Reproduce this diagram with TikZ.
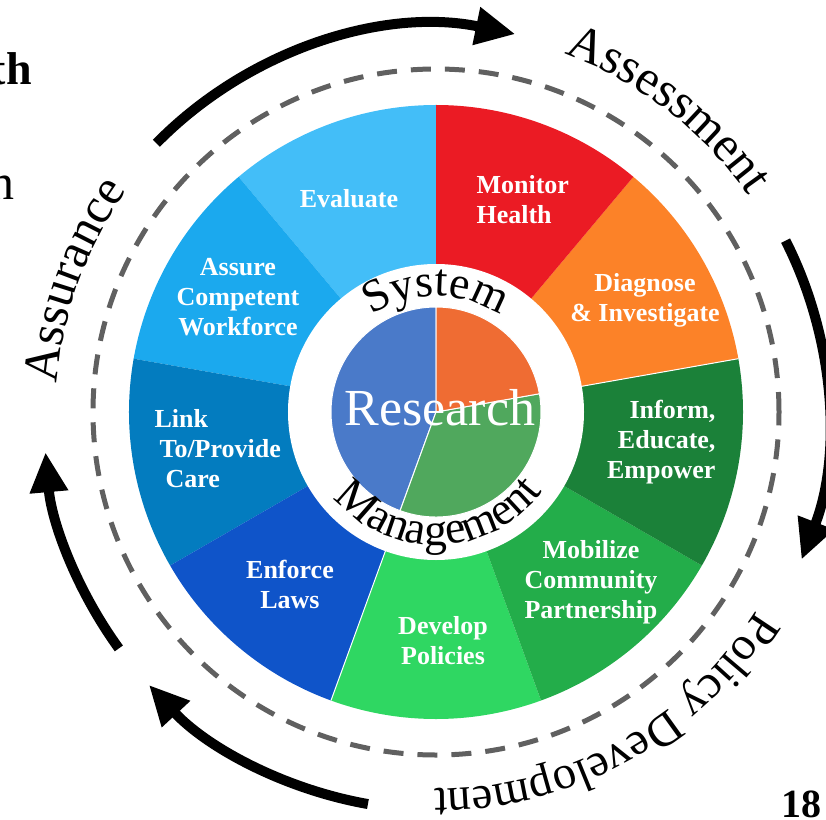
\documentclass[tikz,border=0pt]{standalone}
\usepackage{fontspec}
\setmainfont{Liberation Serif}
\usetikzlibrary{arrows.meta,decorations.text}
\definecolor{evalblue}{HTML}{43BEF8}
\definecolor{assureblue}{HTML}{1BA9EE}
\definecolor{linkblue}{HTML}{037CBF}
\definecolor{enforceblue}{HTML}{0F54C9}
\definecolor{developgreen}{HTML}{2FD762}
\definecolor{mobilgreen}{HTML}{23AD4A}
\definecolor{informgreen}{HTML}{1B8139}
\definecolor{diagorange}{HTML}{FC8228}
\definecolor{monitorred}{HTML}{EB1B24}
\definecolor{pieblue}{HTML}{4A7AC9}
\definecolor{pieorange}{HTML}{EF6C33}
\definecolor{piegreen}{HTML}{50A85D}
\definecolor{dashgray}{HTML}{606060}
\newcommand\segfont{\bfseries\fontsize{26}{30}\selectfont}
\newcommand\ringfont{\fontsize{50}{60}\selectfont}
\newcommand\policyfont{\fontsize{47}{56}\selectfont}
\newcommand\hubfont{\fontsize{46}{50}\selectfont}

\begin{document}
\begin{tikzpicture}[x=1pt, y=1pt,
	seglabel/.style={text=white, font=\segfont, align=center},
	cyclearrow/.style={line width=10pt, -{Triangle[length=40pt, width=36pt]}}]
	\useasboundingbox (-436,-407) rectangle (390,412);
	\fill[evalblue] (0,0) -- (90:307) arc[start angle=90, end angle=130, radius=307] -- cycle;
	\fill[assureblue] (0,0) -- (130:307) arc[start angle=130, end angle=170, radius=307] -- cycle;
	\fill[linkblue] (0,0) -- (170:307) arc[start angle=170, end angle=210, radius=307] -- cycle;
	\fill[enforceblue] (0,0) -- (210:307) arc[start angle=210, end angle=250, radius=307] -- cycle;
	\fill[developgreen] (0,0) -- (250:307) arc[start angle=250, end angle=290, radius=307] -- cycle;
	\fill[mobilgreen] (0,0) -- (290:307) arc[start angle=290, end angle=330, radius=307] -- cycle;
	\fill[informgreen] (0,0) -- (330:307) arc[start angle=330, end angle=370, radius=307] -- cycle;
	\fill[diagorange] (0,0) -- (10:307) arc[start angle=10, end angle=50, radius=307] -- cycle;
	\fill[monitorred] (0,0) -- (50:307) arc[start angle=50, end angle=90, radius=307] -- cycle;
	\draw[white, line width=1pt] (250:148) -- (250:307) (10:148) -- (10:307);
	\fill[white] (0,0) circle (148);
	\filldraw[fill=pieblue, draw=white, line width=1pt] (0,0) -- (90:105) arc[start angle=90, end angle=250, radius=105] -- cycle;
	\filldraw[fill=piegreen, draw=white, line width=1pt] (0,0) -- (250:105) arc[start angle=250, end angle=370, radius=105] -- cycle;
	\filldraw[fill=pieorange, draw=white, line width=1pt] (0,0) -- (10:105) arc[start angle=10, end angle=90, radius=105] -- cycle;
	\node[text=white, font=\fontsize{52}{56}\selectfont, anchor=base] (research) at (4,-13) {Research};
	\path[decorate, decoration={text along path, text align=center, text={|\hubfont|System}}] (150:116) arc[start angle=150, end angle=30, radius=116];
	\path[decorate, decoration={text along path, text align=center, text={|\hubfont|Management}}] (200:133) arc[start angle=200, end angle=343, radius=133];
	\node[seglabel] (evaluate) at (-87,213) {Evaluate};
	\node[seglabel, align=left, anchor=west] (monitor) at (37,212) {Monitor\\Health};
	\node[seglabel] (diagnose) at (209,112) {Diagnose\\\& Investigate};
	\node[seglabel, align=right, anchor=east] (inform) at (283,-30) {Inform,\\Educate,\\Empower};
	\node[seglabel] (mobilize) at (155,-170) {Mobilize\\Community\\Partnership};
	\node[seglabel] (develop) at (7,-229) {Develop\\Policies};
	\node[seglabel] (enforce) at (-146,-172) {Enforce\\Laws};
	\node[seglabel, align=left, anchor=west] (link) at (-285,-37) {Link\\\hspace*{5pt}To/Provide\\\hspace*{11pt}Care};
	\node[seglabel] (assure) at (-198,115) {Assure\\Competent\\Workforce};
	\draw[dashgray, line width=5pt, dash pattern=on 20pt off 14pt] (0,0) circle (343);
	\path[decorate, decoration={text along path, text align=center, text={|\ringfont|Assessment}}] (85:380) arc[start angle=85, end angle=20, radius=380];
	\path[decorate, decoration={text along path, text align=center, text={|\policyfont|Policy Development}}] (-5:377) arc[start angle=-5, end angle=-117, radius=377];
	\path[decorate, decoration={text along path, text align=center, text={|\ringfont|Assurance}}] (195:380) arc[start angle=195, end angle=125, radius=380];
	\coordinate (topstart) at ([shift={(0,-6)}]135.5:392);
	\coordinate (rightstart) at ([shift={(0,-6)}]26.9:392);
	\coordinate (bottomstart) at ([shift={(0,-6)}]260:392);
	\coordinate (leftstart) at ([shift={(0,-6)}]216:392);
	\draw[cyclearrow] (topstart) arc[start angle=135.5, end angle=78.3, radius=392];
	\draw[cyclearrow] (rightstart) arc[start angle=26.9, end angle=-21.2, radius=392];
	\draw[cyclearrow] (bottomstart) arc[start angle=260, end angle=222.9, radius=392];
	\draw[cyclearrow] (leftstart) arc[start angle=216, end angle=185, radius=392];
	\node[font=\bfseries\fontsize{46}{50}\selectfont, anchor=base east, inner sep=0pt] (titlebit) at (32-436,327) {th};
	\node[font=\fontsize{50}{54}\selectfont, anchor=base east, inner sep=0pt] (linebit) at (15-436,212) {n};
	\node[font=\bfseries\fontsize{40}{44}\selectfont, anchor=base east, inner sep=0pt] (pagenum) at (386,-405) {18};
\end{tikzpicture}
\end{document}
